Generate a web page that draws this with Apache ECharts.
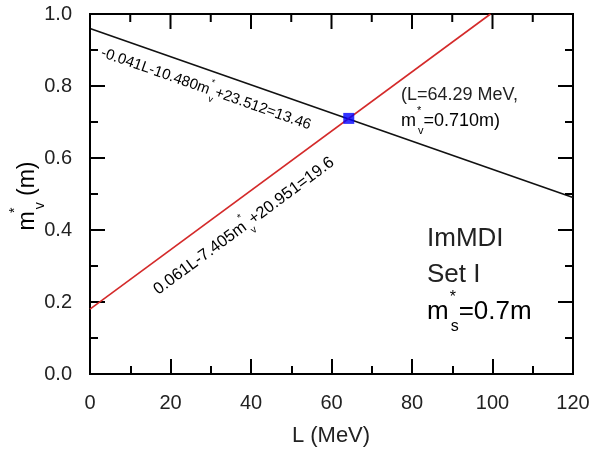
<!DOCTYPE html>
<html>
<head>
<meta charset="utf-8">
<script src="https://cdn.jsdelivr.net/npm/echarts@6/dist/echarts.min.js"></script>
<style>
  html, body { margin: 0; padding: 0; background: #fff; }
  #chart { width: 593px; height: 452px; }
</style>
</head>
<body>
<div id="chart"></div>
<script>
// values
var blackLine = [[0, 0.96], [120, 0.49]];     // -0.041L-10.480m*v+23.512=13.46
var redLine = [[0, 0.18], [99.5, 1.0]];       // 0.061L-7.405m*v+20.951=19.6
var crossPoint = [[64.29, 0.710]];
var xMajor = [0, 20, 40, 60, 80, 100, 120];
var xMinor = [10, 30, 50, 70, 90, 110];
var yMajor = [0, 0.2, 0.4, 0.6, 0.8, 1.0];
var yMinor = [0.1, 0.3, 0.5, 0.7, 0.9];

var FONT = 'Liberation Sans';
var TXT = '#222';

// mirrored tick marks on top and right: [value, side, isMajor]
// side: 1 top, 3 right
var tickData = [];
xMajor.forEach(function (v) { tickData.push([v, 1, 1]); });
xMinor.forEach(function (v) { tickData.push([v, 1, 0]); });
yMajor.forEach(function (v) { tickData.push([v, 3, 1]); });
yMinor.forEach(function (v) { tickData.push([v, 3, 0]); });

var xMin = xMajor[0], xMax = xMajor[xMajor.length - 1];
var yMin = yMajor[0], yMax = yMajor[yMajor.length - 1];

function renderTick(params, api) {
  var v = api.value(0), side = api.value(1);
  var len = api.value(2) ? 15 : 8;
  var p, q;
  if (side === 1) { p = api.coord([v, yMax]); q = [p[0], p[1] + len]; }
  else { p = api.coord([xMax, v]); q = [p[0] - len, p[1]]; }
  return {
    type: 'line',
    shape: { x1: p[0], y1: p[1], x2: q[0], y2: q[1] },
    style: { stroke: '#000', lineWidth: 2 }
  };
}

// rich styles for m with * above and v / s below
function mRich(size) {
  var small = Math.round(size * 0.62);
  return {
    n: { fontSize: size, fontFamily: FONT, color: TXT, lineHeight: size * 1.7, verticalAlign: 'middle' },
    st: { fontSize: small, fontFamily: FONT, color: TXT, verticalAlign: 'top', width: 0, padding: [0, 0, 0, 1] },
    sb: { fontSize: small, fontFamily: FONT, color: TXT, verticalAlign: 'bottom', padding: [0, 0, 0, 1] }
  };
}

function axisBase(ticks, step) {
  return {
    type: 'value', min: ticks[0], max: ticks[ticks.length - 1], interval: step,
    axisLine: { show: true, onZero: false, lineStyle: { color: '#000', width: 2 } },
    axisTick: { show: true, inside: true, length: 15, lineStyle: { color: '#000', width: 2 } },
    minorTick: { show: true, splitNumber: 2, length: 8, lineStyle: { color: '#000', width: 2 } },
    splitLine: { show: false },
    axisLabel: { color: TXT, fontSize: 20, fontFamily: FONT }
  };
}

var chart = echarts.init(document.getElementById('chart'));

var xAxis = axisBase(xMajor, 20);
xAxis.axisLabel.margin = 19;
var yAxis = axisBase(yMajor, 0.2);
yAxis.axisLabel.margin = 18;
yAxis.axisLabel.formatter = function (v) { return v.toFixed(1); };

var option = {
  animation: false,
  grid: {
    left: 90, right: 20, top: 14, bottom: 78,
    show: true, borderColor: '#000', borderWidth: 2, backgroundColor: 'transparent'
  },
  xAxis: xAxis,
  yAxis: yAxis,
  series: [
    {
      type: 'custom', data: tickData, renderItem: renderTick, z: 6, silent: true, clip: false
    },
    {
      type: 'line', data: blackLine, symbol: 'none', z: 3,
      lineStyle: { color: '#111', width: 1.6 }
    },
    {
      type: 'line', data: redLine, symbol: 'none', z: 3,
      lineStyle: { color: '#d42a2a', width: 1.6 }
    },
    {
      type: 'scatter', data: crossPoint, symbol: 'rect', symbolSize: 11, z: 5,
      itemStyle: { color: '#0000ff' }
    }
  ],
  graphic: [
    // axis titles
    {
      type: 'text', x: 331, y: 436,
      style: { text: 'L (MeV)', fontSize: 22, fontFamily: FONT, fill: TXT, align: 'center', verticalAlign: 'middle' }
    },
    {
      type: 'text', x: 28, y: 196, rotation: Math.PI / 2,
      style: {
        text: '{n|m}{st|*}{sb|v}{n| (m)}', align: 'center', verticalAlign: 'middle',
        rich: mRich(23)
      }
    },
    // line equations
    {
      type: 'text', x: 206, y: 89, rotation: -0.337,
      style: {
        text: '{n|-0.041L-10.480m}{st|*}{sb|v}{n|+23.512=13.46}',
        align: 'center', verticalAlign: 'middle', rich: mRich(15)
      }
    },
    {
      type: 'text', x: 244, y: 226, rotation: 0.636,
      style: {
        text: '{n|0.061L-7.405m}{st|*}{sb|v}{n|+20.951=19.6}',
        align: 'center', verticalAlign: 'middle', rich: mRich(16.5)
      }
    },
    // crossing point label
    {
      type: 'text', x: 401, y: 95,
      style: { text: '(L=64.29 MeV,', fontSize: 18, fontFamily: FONT, fill: TXT, verticalAlign: 'middle' }
    },
    {
      type: 'text', x: 401, y: 121,
      style: {
        text: '{n|m}{st|*}{sb|v}{n|=0.710m)}', verticalAlign: 'middle', rich: mRich(18)
      }
    },
    // model info
    {
      type: 'text', x: 427, y: 239,
      style: { text: 'ImMDI', fontSize: 26, fontFamily: FONT, fill: TXT, verticalAlign: 'middle' }
    },
    {
      type: 'text', x: 427, y: 275,
      style: { text: 'Set I', fontSize: 26, fontFamily: FONT, fill: TXT, verticalAlign: 'middle' }
    },
    {
      type: 'text', x: 427, y: 312,
      style: {
        text: '{n|m}{st|*}{sb|s}{n|=0.7m}', verticalAlign: 'middle', rich: mRich(26)
      }
    }
  ]
};

chart.setOption(option);
</script>
</body>
</html>
